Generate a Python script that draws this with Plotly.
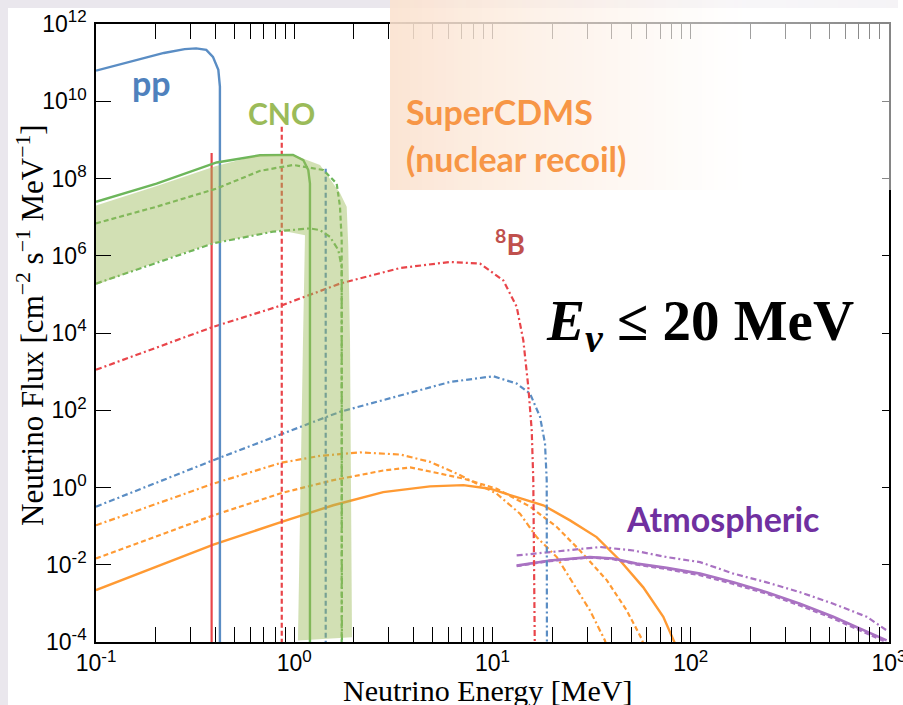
import plotly.graph_objects as go

# ---------------- data ----------------
# pp (blue solid)
pp_E = [0.1, 0.13, 0.17, 0.22, 0.28, 0.32, 0.36, 0.389, 0.414, 0.4217, 0.4217]
pp_F = [6.2e10, 8.9e10, 1.26e11, 1.78e11, 2.24e11, 2.34e11, 2.14e11, 1.41e11, 6.5e10, 2.4e10, 1e-5]
# 7Be lines (red solid / red dashed) and pep line (blue dashed)
be7a_E = [0.383, 0.383]
be7a_F = [4.6e8, 1e-5]
be7b_E = [0.865, 0.865]
be7b_F = [2.2e9, 1e-5]
pep_E = [1.441, 1.441]
pep_F = [1.8e8, 1e-5]
# CNO (green)
n13_E = [0.1, 0.202, 0.406, 0.672, 0.9856, 1.111, 1.177, 1.2, 1.2]
n13_F = [2.5e7, 7.4e7, 2.6e8, 4.0e8, 4.1e8, 3.0e8, 1.66e8, 7.4e7, 1e-5]
o15_E = [0.1, 0.202, 0.406, 0.672, 0.989, 1.402, 1.637, 1.701, 1.735, 1.735]
o15_F = [6.9e6, 1.86e7, 5.5e7, 1.58e8, 2.24e8, 1.66e8, 7.4e7, 1.86e7, 2.5e6, 1e-5]
f17_E = [0.1, 0.2, 0.391, 0.78, 1.2, 1.349, 1.514, 1.668, 1.735, 1.74]
f17_F = [1.9e5, 6.3e5, 2.1e6, 4.2e6, 5.1e6, 4.6e6, 3.1e6, 1.41e6, 5.1e5, 1e-5]
# CNO uncertainty band (upper edge left->right, then lower edge right->left)
band_up_E = [0.1, 0.2008, 0.403, 0.672, 0.9856, 1.349, 1.701, 1.839, 1.873, 1.911, 1.956]
band_up_F = [2.0e7, 6.3e7, 2.1e8, 4.1e8, 4.1e8, 2.24e8, 4.2e7, 1.86e7, 1.7e6, 6.5e3, 1.32e-4]
band_lo_E = [1.044, 1.107, 1.133, 0.8475, 0.3893, 0.2008, 0.1]
band_lo_F = [1.1e-4, 6.5e3, 3.4e6, 4.6e6, 2.1e6, 6.8e5, 1.74e5]
# 8B (red dash-dot)
b8_E = [0.1, 0.391, 0.864, 1.70, 3.41, 6.10, 8.65, 11.34, 13.24, 14.30, 15.16, 15.77, 16.06, 16.4]
b8_F = [1.12e3, 1.45e4, 5.2e4, 1.9e5, 4.8e5, 6.9e5, 6.3e5, 2.3e5, 4.8e4, 6.5e3, 4.0e2, 30, 1.55, 1e-5]
# hep (blue dash-dot)
hep_E = [0.1, 0.391, 1.70, 6.10, 10.09, 13.24, 15.46, 17.36, 18.40, 18.77, 18.83]
hep_F = [0.32, 5.1, 91, 540, 760, 490, 270, 68, 13.8, 1.55, 1e-5]
# DSNB (orange)
dsnb1_E = [0.1, 0.391, 0.864, 1.574, 2.81, 4.84, 7.13, 9.71, 13.24, 18.04, 24.6, 33.5, 44.0, 57.6, 72.7, 83.3]
dsnb1_F = [2.2e-3, 0.033, 0.129, 0.347, 0.76, 1.07, 1.15, 0.93, 0.56, 0.347, 0.141, 0.052, 0.0129, 2.6e-3, 4.5e-4, 9.1e-5]
dsnb2_E = [0.1, 0.391, 0.864, 1.574, 2.81, 3.84, 4.84, 7.13, 10.5, 15.46, 21.1, 27.6, 37.7, 47.5, 56.6, 58.0]
dsnb2_F = [0.0145, 0.19, 0.72, 1.55, 2.75, 3.3, 2.6, 1.7, 0.93, 0.32, 0.095, 0.0234, 4.0e-3, 6.6e-4, 1.2e-4, 8e-5]
dsnb3_E = [0.1, 0.391, 0.864, 1.35, 2.15, 3.45, 4.84, 6.60, 10.5, 13.76, 16.7, 21.1, 25.6, 31.0, 36.9, 37.5]
dsnb3_F = [0.105, 1.26, 4.4, 6.6, 8.1, 7.1, 4.6, 2.3, 0.69, 0.21, 0.052, 0.0158, 3.2e-3, 6.6e-4, 1.1e-4, 8e-5]
# Atmospheric (purple)
atm_E = [13.24, 19.5, 31.0, 40.6, 53.4, 75.6, 111.4, 164, 241.6, 355.6, 523.6, 714, 973]
atm1_F = [9.5e-3, 0.0129, 0.0158, 0.0145, 0.0107, 8.3e-3, 5.9e-3, 3.5e-3, 1.95e-3, 9.8e-4, 4.5e-4, 2.2e-4, 1.1e-4]
atm2_F = [9.3e-3, 0.0126, 0.0155, 0.0141, 0.0102, 7.8e-3, 5.4e-3, 3.2e-3, 1.8e-3, 8.9e-4, 4.1e-4, 2.0e-4, 1.0e-4]
atm3_E = [13.24, 19.5, 34.9, 51.3, 75.6, 111.4, 164, 241.6, 355.6, 523.6, 772, 973]
atm3_F = [0.0174, 0.0214, 0.0288, 0.0234, 0.0158, 0.0117, 5.9e-3, 3.5e-3, 1.95e-3, 9.8e-4, 4.5e-4, 2.0e-4]

x_tickvals = [0.1, 1, 10, 100, 1000]
x_exponents = ["-1", "0", "1", "2", "3"]
y_tickvals = [1e-4, 1e-2, 1, 1e2, 1e4, 1e6, 1e8, 1e10, 1e12]
y_exponents = ["-4", "-2", "0", "2", "4", "6", "8", "10", "12"]
x_minor = [k * d for d in [0.1, 1, 10, 100] for k in range(2, 10)]


def pow_label(e):
    return "10<sup><span style='font-size:17px'>" + e + "</span></sup>"


x_ticktext = [pow_label(e) for e in x_exponents]
y_ticktext = [pow_label(e) for e in y_exponents]

# ---------------- style ----------------
RED = "#E9454A"
BLUE = "#5A8DC4"
GREEN = "#6DB65B"
ORANGE = "#FF9A33"
PURPLE = "#A972C2"
DASH = "5px,3px"
DASHDOT = "6px,3px,2px,3px"

W, H = 903, 705
L, R, T, B = 96, 889, 24, 642


def px(x):
    return (x - L) / (R - L)


def py(y):
    return (B - y) / (B - T)


fig = go.Figure()


def line(x, y, color, dash="solid", width=2.2):
    fig.add_trace(go.Scatter(x=x, y=y, mode="lines", showlegend=False, hoverinfo="skip",
                             line=dict(color=color, width=width, dash=dash)))


line(dsnb1_E, dsnb1_F, ORANGE, "solid", 2.4)
line(dsnb2_E, dsnb2_F, ORANGE, DASH)
line(dsnb3_E, dsnb3_F, ORANGE, DASHDOT)
line(atm_E, atm2_F, PURPLE, DASH, 2.6)
line(atm_E, atm1_F, PURPLE, "solid", 2.6)
line(atm3_E, atm3_F, PURPLE, DASHDOT)
line(hep_E, hep_F, BLUE, DASHDOT)
line(b8_E, b8_F, RED, DASHDOT)
line(pep_E, pep_F, BLUE, DASH)
line(be7b_E, be7b_F, RED, DASH)
line(be7a_E, be7a_F, RED, "solid")
line(pp_E, pp_F, BLUE, "solid", 2.4)
line(f17_E, f17_F, GREEN, DASHDOT)
line(o15_E, o15_F, GREEN, DASH)
line(n13_E, n13_F, GREEN, "solid", 2.4)

fig.add_trace(go.Scatter(x=band_up_E + band_lo_E, y=band_up_F + band_lo_F, mode="lines",
                         fill="toself", fillcolor="rgba(155,187,89,0.45)", line=dict(width=0),
                         showlegend=False, hoverinfo="skip"))
# invisible trace to carry the right-hand tick axis
fig.add_trace(go.Scatter(x=[1], y=[1], yaxis="y2", mode="markers", marker=dict(opacity=0),
                         showlegend=False, hoverinfo="skip"))

tickfont = dict(family="Liberation Sans, Arial, sans-serif", size=23, color="black")
fig.update_layout(
    width=W, height=H, margin=dict(l=L, r=W - R, t=T, b=H - B, autoexpand=False),
    paper_bgcolor="white", plot_bgcolor="white",
    xaxis=dict(type="log", range=[-1, 3], showline=True, linecolor="black", linewidth=1.5,
               mirror="allticks", ticks="inside", ticklen=15, tickwidth=1.2, tickcolor="black",
               tickvals=x_tickvals, ticktext=x_ticktext, tickfont=tickfont,
               ticklabeloverflow="allow", automargin=False,
               minor=dict(tickvals=x_minor, ticks="inside", ticklen=7, tickwidth=1, tickcolor="black"),
               showgrid=False, zeroline=False),
    yaxis=dict(type="log", range=[-4, 12], showline=True, linecolor="black", linewidth=1.5,
               mirror=True, ticks="inside", ticklen=15, tickwidth=1.2, tickcolor="black",
               tickvals=y_tickvals, ticktext=y_ticktext, tickfont=tickfont,
               ticklabelstandoff=3, ticklabeloverflow="allow", automargin=False,
               showgrid=False, zeroline=False),
    yaxis2=dict(type="log", range=[-4, 12], overlaying="y", side="right", ticks="inside",
                ticklen=7, tickwidth=1.2, tickcolor="black", tickvals=y_tickvals,
                showticklabels=False, showline=False, showgrid=False, zeroline=False,
                automargin=False),
)

shapes = []
GRAY = "#EAE7ED"
shapes.append(dict(type="rect", xref="paper", yref="paper", x0=px(0), x1=px(8), y0=py(705), y1=py(0),
                   fillcolor=GRAY, line=dict(width=0), layer="below"))
shapes.append(dict(type="rect", xref="paper", yref="paper", x0=px(0), x1=px(898), y0=py(8), y1=py(0),
                   fillcolor=GRAY, line=dict(width=0), layer="below"))
# gradient "SuperCDMS" panel
x_start, x_end, step = 390, 898, 4
xs = list(range(x_start, x_end, step))
for i, x0 in enumerate(xs):
    t = i / (len(xs) - 1)
    f = min(t / 0.7, 1.0)
    r = round(251 + (255 - 251) * f)
    g = round(226 + (255 - 226) * f)
    b = round(207 + (255 - 207) * f)
    a = 0.9 - 0.38 * t
    shapes.append(dict(type="rect", xref="paper", yref="paper", x0=px(x0), x1=px(min(x0 + step, x_end)),
                       y0=py(190), y1=py(0), fillcolor=f"rgba({r},{g},{b},{a:.3f})",
                       line=dict(width=0), layer="above"))
fig.update_layout(shapes=shapes)

LABEL = "Lato, Open Sans, sans-serif"
SERIF = "Liberation Serif, Times New Roman, serif"
ann = []


def text(s, x, y, size, color, family=LABEL, xanchor="center", angle=0):
    ann.append(dict(text=s, x=px(x), y=py(y), xref="paper", yref="paper", showarrow=False,
                    xanchor=xanchor, yanchor="middle", textangle=angle,
                    font=dict(family=family, size=size, color=color)))


text("<b>pp</b>", 151, 82, 34, "#4F81BD")
text("<b>CNO</b>", 281, 113, 30, "#9BBB59")
text("<b>SuperCDMS</b>", 404, 111, 34, "#F79646", xanchor="left")
text("<b>(nuclear recoil)</b>", 404, 158, 34, "#F79646", xanchor="left")
text("<b><sup>8</sup>B</b>", 510, 243, 28, "#C0504D")
text("<b>Atmospheric</b>", 723, 518, 34, "#7030A0")
text("<b><i>E</i><sub><i>ν</i></sub> ≤ 20 MeV</b>", 700, 325, 57, "black", family=SERIF)
text("Neutrino Energy [MeV]", 487, 690, 30, "black", family=SERIF)
text("Neutrino Flux [cm<sup>−2</sup> s<sup>−1</sup> MeV<sup>−1</sup>]", 30, 325, 31, "black",
     family=SERIF, angle=-90)
fig.update_layout(annotations=ann)

fig.write_html("out.html")
